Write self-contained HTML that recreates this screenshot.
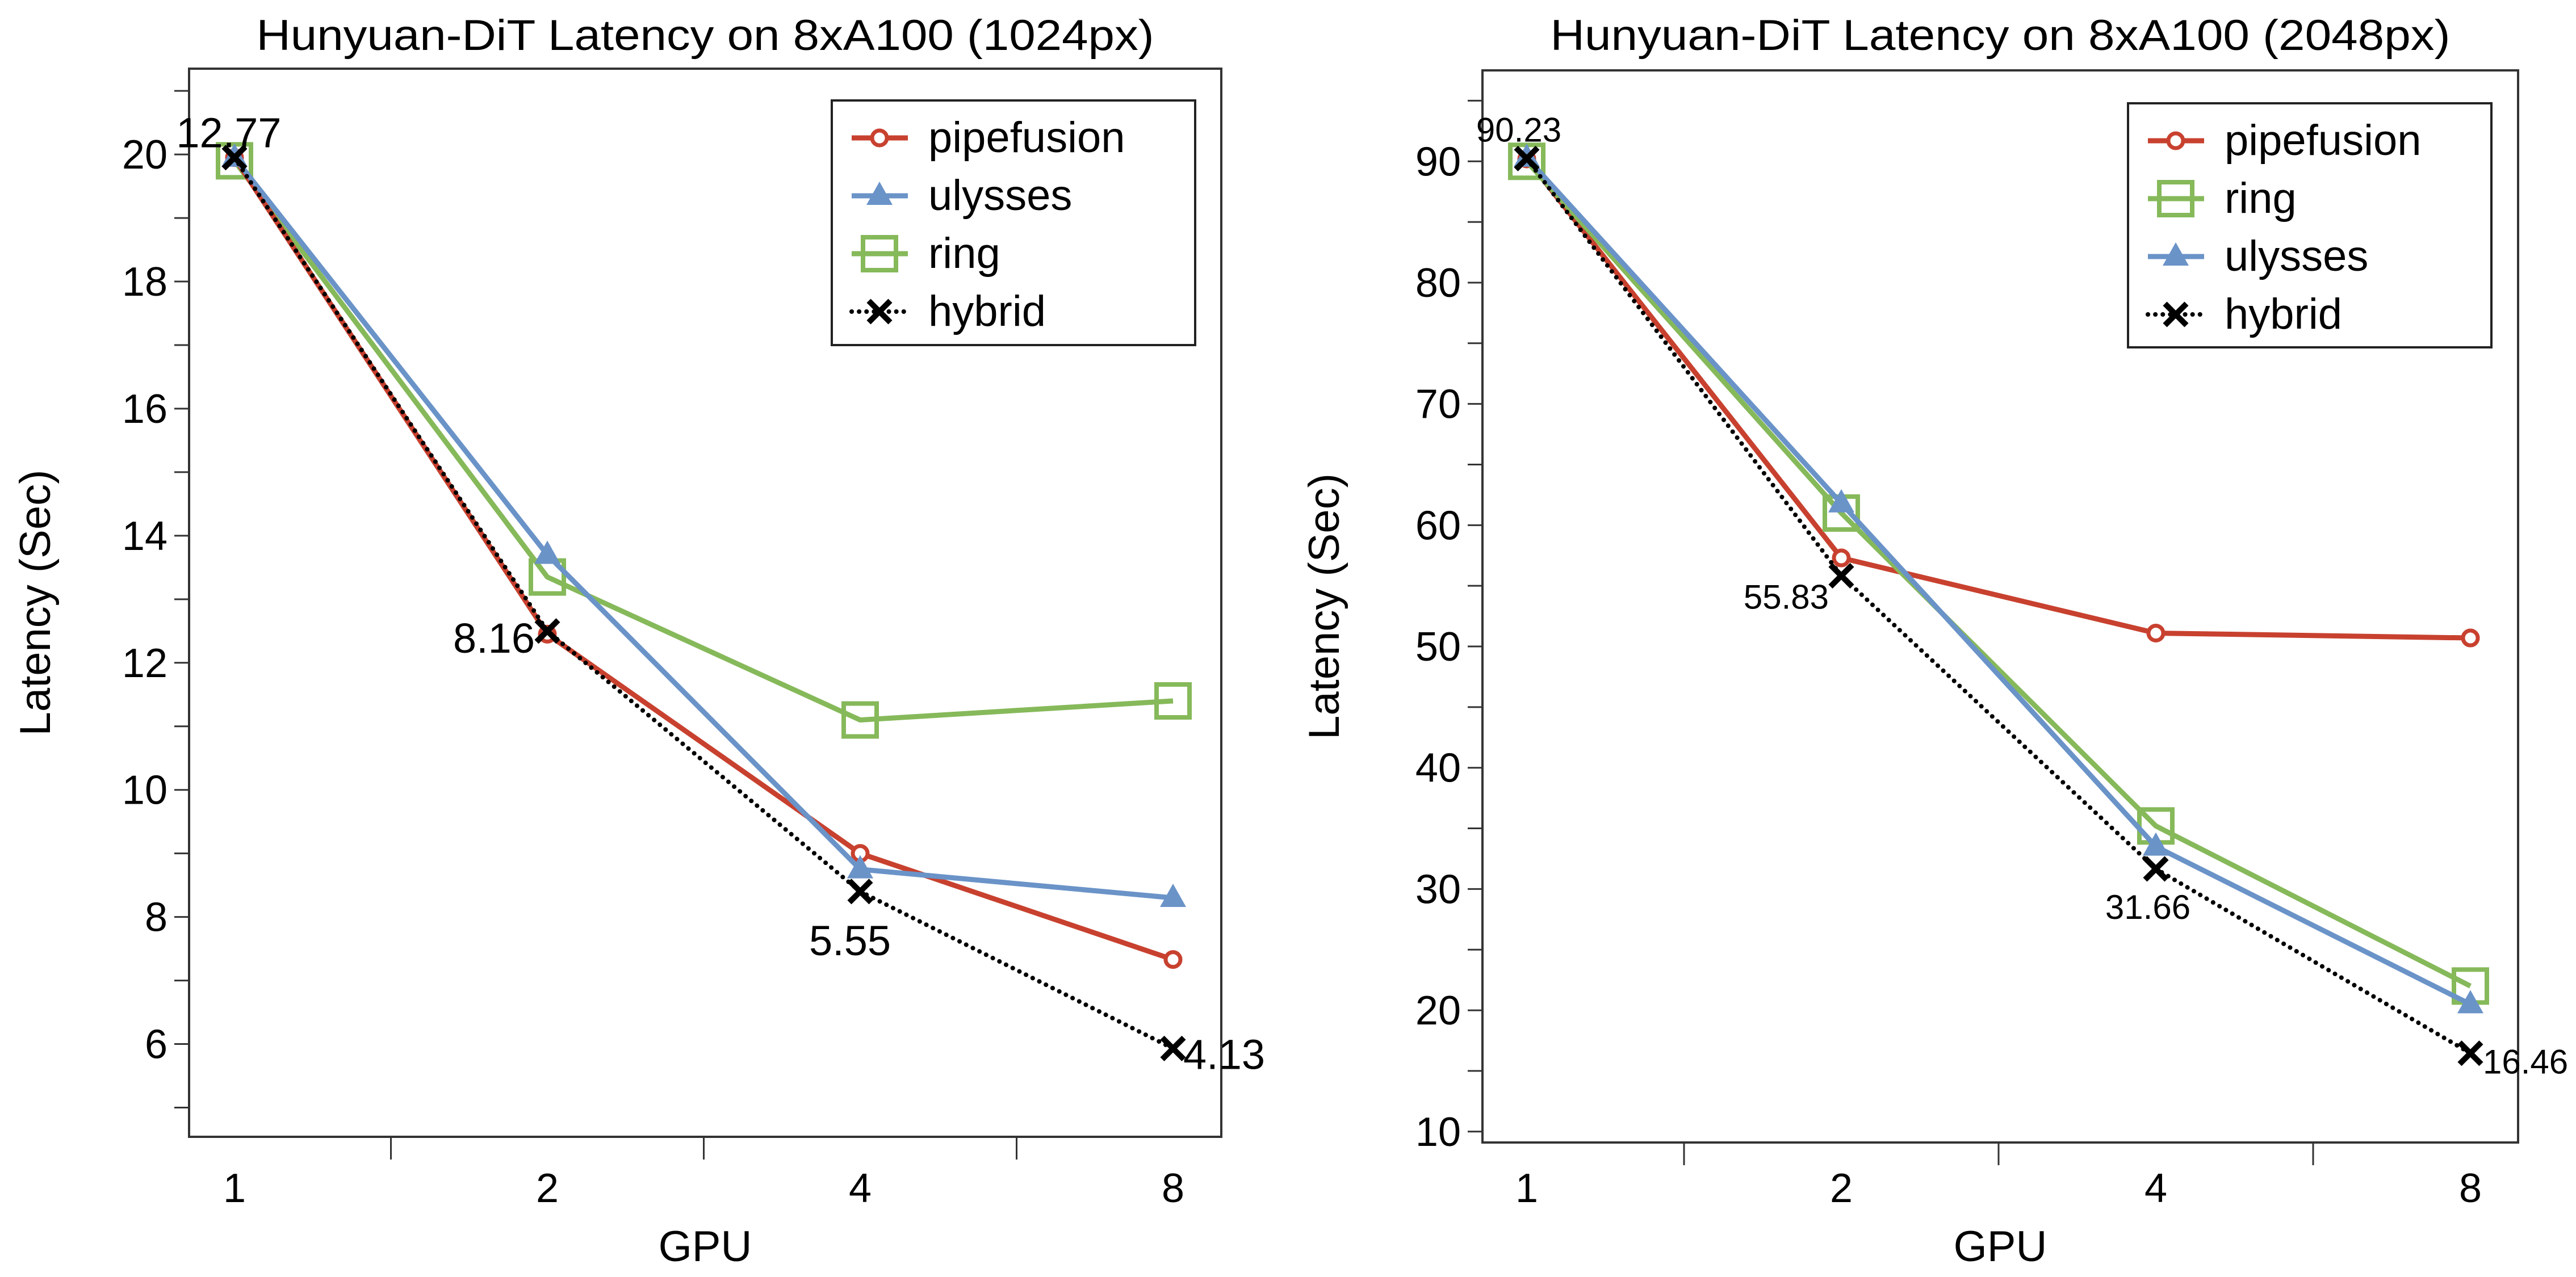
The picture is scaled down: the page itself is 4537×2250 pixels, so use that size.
<!DOCTYPE html>
<html><head><meta charset="utf-8">
<style>html,body{margin:0;padding:0;background:#fff}svg{display:block}text{font-family:"Liberation Sans",Arial,sans-serif;fill:#000}</style>
</head><body>
<svg id="chart" width="4537" height="2250" viewBox="0 0 4537 2250" xmlns="http://www.w3.org/2000/svg"></svg>
<script>
const gpuCategories = ["1","2","4","8"];
// Left panel (1024px)
const leftPipefusion = [19.95, 12.45, 9.0, 7.33];
const leftUlysses = [19.95, 13.7, 8.75, 8.3];
const leftRing = [19.9, 13.35, 11.1, 11.4];
const leftHybrid = [19.95, 12.5, 8.4, 5.93];
const leftHybridLabels = ["12.77", "8.16", "5.55", "4.13"];
const leftYTicks = [6, 8, 10, 12, 14, 16, 18, 20];
const leftYMinor = [5, 7, 9, 11, 13, 15, 17, 19, 21];
// Right panel (2048px)
const rightPipefusion = [90.2, 57.3, 51.1, 50.7];
const rightRing = [90.0, 61.0, 35.2, 22.0];
const rightUlysses = [90.3, 61.8, 33.5, 20.5];
const rightHybrid = [90.23, 55.83, 31.66, 16.46];
const rightHybridLabels = ["90.23", "55.83", "31.66", "16.46"];
const rightYTicks = [10, 20, 30, 40, 50, 60, 70, 80, 90];
const rightYMinor = [15, 25, 35, 45, 55, 65, 75, 85, 95];

const NS = "http://www.w3.org/2000/svg";
const svg = document.getElementById("chart");
function mk(tag, attrs, parent) {
  const e = document.createElementNS(NS, tag);
  for (const k in attrs) e.setAttribute(k, attrs[k]);
  (parent || svg).appendChild(e);
  return e;
}
const RED = "#c8412f", BLUE = "#6a93c8", GREEN = "#86b95a";

function marker(g, type, x, y, color) {
  let m;
  if (type === "circle") m = mk("circle", {cx: x, cy: y, r: 13, fill: "#fff", stroke: color, "stroke-width": 7}, g);
  else if (type === "tri") m = mk("polygon", {points: `${x},${y-25} ${x-23},${y+16} ${x+23},${y+16}`, fill: color}, g);
  else if (type === "square") m = mk("rect", {x: x-29, y: y-29, width: 58, height: 58, fill: "none", stroke: color, "stroke-width": 8}, g);
  else {
    m = mk("path", {d: `M${x-19},${y-19}L${x+19},${y+19}M${x-19},${y+19}L${x+19},${y-19}`, stroke: "#000", "stroke-width": 10, fill: "none"}, g);
  }
  return m;
}

function panel(cfg) {
  const g = mk("g", {});
  
  
  const {L, R, T, B, ymin, ymax, xs} = cfg;
  const yS = v => B - (v - ymin) / (ymax - ymin) * (B - T);
  const xS = i => xs[0] + i * (xs[1] - xs[0]);
  const box = mk("rect", {x: L, y: T, width: R - L, height: B - T, fill: "none", stroke: "#333", "stroke-width": 4}, g);
  
  
  const title = mk("text", {x: (L + R) / 2, y: 88, "text-anchor": "middle", "font-size": 76, textLength: cfg.titleLen, lengthAdjust: "spacingAndGlyphs"}, g);
  title.textContent = cfg.title;
  
  
  cfg.yTicks.forEach(v => {
    const y = yS(v);
    mk("line", {x1: L - 26, x2: L, y1: y, y2: y, stroke: "#333", "stroke-width": 3}, g);
    const t = mk("text", {x: L - 38, y: y + 25, "text-anchor": "end", "font-size": 72}, g);
    t.textContent = v;
    
    
  });
  cfg.yMinor.forEach(v => {
    const y = yS(v);
    if (y < T || y > B) return;
    mk("line", {x1: L - 26, x2: L, y1: y, y2: y, stroke: "#333", "stroke-width": 3}, g);
  });
  gpuCategories.forEach((c, i) => {
    const t = mk("text", {x: xS(i), y: 2118, "text-anchor": "middle", "font-size": 72}, g);
    t.textContent = c;
    
    
    if (i < 3) {
      const mx = (xS(i) + xS(i + 1)) / 2;
      mk("line", {x1: mx, x2: mx, y1: B, y2: B + 40, stroke: "#333", "stroke-width": 3}, g);
    }
  });
  const xt = mk("text", {x: (L + R) / 2, y: 2222, "text-anchor": "middle", "font-size": 76}, g);
  xt.textContent = "GPU";
  
  
  const yc = (T + B) / 2;
  const yt = mk("text", {x: cfg.ytx, y: yc, "text-anchor": "middle", "font-size": 76, transform: `rotate(-90 ${cfg.ytx} ${yc})`}, g);
  yt.textContent = "Latency (Sec)";
  
  
  cfg.series.forEach(s => {
    const sg = mk("g", {}, g);
    
    
    const pts = s.data.map((v, i) => `${xS(i)},${yS(v)}`).join(" ");
    const attrs = {points: pts, fill: "none", stroke: s.color, "stroke-width": 9, "stroke-linejoin": "round"};
    if (s.dash) { attrs["stroke-dasharray"] = "0.1 13"; attrs["stroke-width"] = 8; attrs["stroke-linecap"] = "round"; }
    mk("polyline", attrs, sg);
    s.data.forEach((v, i) => {
      const m = marker(sg, s.marker, xS(i), yS(v), s.color);
      
      
    });
  });
  cfg.labels.forEach((lab, i) => {
    const o = cfg.labelPos[i];
    const t = mk("text", {x: xS(i) + o[0], y: yS(cfg.hybrid[i]) + o[1], "text-anchor": o[2], "font-size": cfg.labelSize}, g);
    t.textContent = lab;
    
    
  });
  const lg = mk("g", {}, g);
  
  
  const [lx, ly, lw, lh] = cfg.legend;
  mk("rect", {x: lx, y: ly, width: lw, height: lh, fill: "#fff", stroke: "#222", "stroke-width": 4}, lg);
  cfg.legendOrder.forEach((s, k) => {
    const ey = ly + 66 + k * 102;
    const eg = mk("g", {}, lg);
    
    
    const a = {x1: lx + 35, x2: lx + 134, y1: ey, y2: ey, stroke: s.color, "stroke-width": 9};
    if (s.dash) { a["stroke-dasharray"] = "0.1 13"; a["stroke-width"] = 8; a["stroke-linecap"] = "round"; }
    mk("line", a, eg);
    marker(eg, s.marker, lx + 84, ey, s.color);
    const t = mk("text", {x: lx + 170, y: ey + 25, "font-size": 76}, eg);
    t.textContent = s.label;
  });
}

const S = (label, data, color, m, dash) => ({label, data, color, marker: m, dash});
const lp = S("pipefusion", leftPipefusion, RED, "circle"), lu = S("ulysses", leftUlysses, BLUE, "tri"),
      lr = S("ring", leftRing, GREEN, "square"), lh = S("hybrid", leftHybrid, "#000", "x", true);
panel({name: "panel-1024px", title: "Hunyuan-DiT Latency on 8xA100 (1024px)", titleLen: 1581,
  L: 333, R: 2151, T: 121, B: 2003, ymin: 4.54, ymax: 21.35, xs: [413, 964],
  yTicks: leftYTicks, yMinor: leftYMinor, ytx: 88,
  series: [lr, lp, lu, lh], legendOrder: [lp, lu, lr, lh], legend: [1465, 177, 640, 431],
  hybrid: leftHybrid, labels: leftHybridLabels, labelSize: 74,
  labelPos: [[-10, -18, "middle"], [-22, 38, "end"], [-18, 112, "middle"], [18, 36, "start"]]});

const rp = S("pipefusion", rightPipefusion, RED, "circle"), rr = S("ring", rightRing, GREEN, "square"),
      ru = S("ulysses", rightUlysses, BLUE, "tri"), rh = S("hybrid", rightHybrid, "#000", "x", true);
panel({name: "panel-2048px", title: "Hunyuan-DiT Latency on 8xA100 (2048px)", titleLen: 1585,
  L: 2611, R: 4435, T: 124, B: 2013, ymin: 9.1, ymax: 97.5, xs: [2689, 3243],
  yTicks: rightYTicks, yMinor: rightYMinor, ytx: 2358,
  series: [rp, rr, ru, rh], legendOrder: [rp, rr, ru, rh], legend: [3748, 182, 640, 430],
  hybrid: rightHybrid, labels: rightHybridLabels, labelSize: 60,
  labelPos: [[-14, -30, "middle"], [-22, 58, "end"], [-14, 88, "middle"], [22, 36, "start"]]});
</script>
</body></html>
